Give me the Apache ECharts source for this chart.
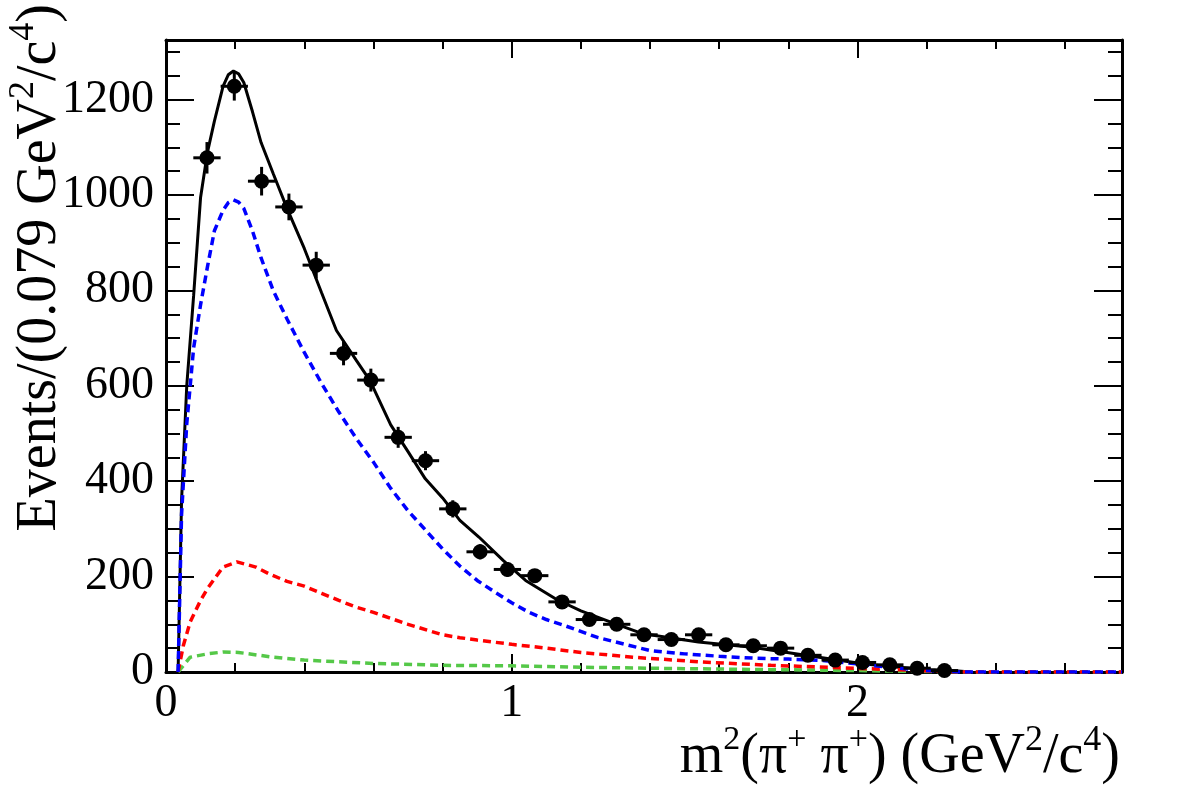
<!DOCTYPE html>
<html>
<head>
<meta charset="utf-8">
<script src="https://cdn.jsdelivr.net/npm/echarts@6/dist/echarts.min.js"></script>
<style>
  html, body { margin: 0; padding: 0; background: #fff; }
  #main { width: 1182px; height: 800px; }
</style>
</head>
<body>
<div id="main"></div>
<script>
// bin centres (width 0.079) and measured counts
var binX = [0.1185, 0.1975, 0.2765, 0.3555, 0.4345, 0.5135, 0.5925, 0.6715, 0.7505, 0.8295,
  0.9085, 0.9875, 1.0665, 1.1455, 1.2245, 1.3035, 1.3825, 1.4615, 1.5405, 1.6195,
  1.6985, 1.7775, 1.8565, 1.9355, 2.0145, 2.0935, 2.1725, 2.2515];
var counts = [1078, 1228, 1029, 975, 853, 668, 612, 492, 443, 342,
  252, 215, 202, 147, 110, 100, 78, 68, 78, 57,
  55, 50, 35, 25, 20, 15, 8, 3];
var errs = [33, 30, 30, 28, 28, 25, 24, 22, 20, 18,
  16, 15, 14, 12, 11, 10, 9, 8, 9, 8,
  7, 7, 6, 5, 4, 4, 3, 2];
var binHalf = 0.0395;

// total fit (black)
var totalX = [0.035, 0.045, 0.06, 0.08, 0.10, 0.12, 0.14, 0.165, 0.18, 0.195, 0.21, 0.225, 0.25, 0.275,
  0.31, 0.35, 0.40, 0.45, 0.493, 0.55, 0.59, 0.65, 0.70, 0.75, 0.80, 0.85, 0.905, 0.975, 1.04,
  1.13, 1.20, 1.30, 1.38, 1.54, 1.695, 1.85, 2.00, 2.08, 2.21, 2.29, 2.33];
var totalY = [0, 360, 600, 790, 995, 1090, 1155, 1228, 1252, 1260, 1254, 1236, 1175, 1110,
  1045, 972, 888, 795, 716, 654, 611, 518, 462, 405, 365, 318, 283, 234, 192,
  152, 128, 101, 80, 63, 52, 35, 19, 12, 5, 2, 0];

// blue component
var blueX = [0.035, 0.045, 0.06, 0.08, 0.10, 0.12, 0.14, 0.165, 0.18, 0.195, 0.21, 0.225, 0.25, 0.275,
  0.31, 0.35, 0.40, 0.45, 0.50, 0.55, 0.60, 0.65, 0.70, 0.75, 0.80, 0.85, 0.90, 0.95, 1.00,
  1.05, 1.10, 1.15, 1.25, 1.40, 1.50, 1.60, 1.70, 1.80, 1.90, 2.00, 2.10, 2.20, 2.30, 2.765];
var blueY = [0, 330, 520, 680, 770, 850, 925, 968, 984, 990, 985, 972, 925, 868,
  800, 740, 670, 605, 545, 490, 440, 385, 338, 298, 258, 222, 192, 168, 145,
  125, 110, 98, 72, 45, 38, 33, 29, 27, 24, 17, 9, 3, 0, 0];

// red component
var redX = [0.035, 0.05, 0.07, 0.10, 0.12, 0.165, 0.205, 0.26, 0.30, 0.35, 0.40, 0.45, 0.50, 0.55,
  0.60, 0.70, 0.80, 0.85, 0.90, 1.00, 1.10, 1.20, 1.35, 1.55, 1.75, 1.95, 2.10, 2.25, 2.30, 2.765];
var redY = [0, 55, 105, 150, 175, 220, 231, 220, 205, 190, 180, 165, 150, 136,
  125, 100, 78, 72, 67, 58, 50, 41, 31, 21, 14, 9, 5, 1, 0, 0];

// green component
var greenX = [0.035, 0.07, 0.12, 0.165, 0.21, 0.30, 0.40, 0.60, 0.80, 1.00, 1.20, 1.50, 2.00, 2.30, 2.765];
var greenY = [0, 31, 38, 42, 41, 32, 25, 18, 14, 13, 10, 7, 3, 0, 0];

function zip(xs, ys) {
  return xs.map(function (x, i) { return [x, ys[i]]; });
}

var FONT = "'Liberation Serif', 'DejaVu Serif', serif";
var myChart = echarts.init(document.getElementById("main"));

function xAx(pos, interval, tickLen, labels, line) {
  return {
    type: "value", position: pos, min: 0, max: 2.765, interval: interval,
    axisLine: { show: line, onZero: false, lineStyle: { color: "#000", width: 3 } },
    axisTick: { show: true, inside: true, length: tickLen, lineStyle: { color: "#000", width: 2 } },
    axisLabel: labels ? {
      show: true, color: "#000", fontFamily: FONT, fontSize: 46, margin: 9,
      showMaxLabel: false,
      formatter: function (v) {
        return Math.abs(v - Math.round(v)) < 1e-6 ? String(Math.round(v)) : "";
      }
    } : { show: false },
    splitLine: { show: false }
  };
}

function yAx(pos, interval, tickLen, labels, line) {
  return {
    type: "value", position: pos, min: 0, max: 1325, interval: interval,
    axisLine: { show: line, onZero: false, lineStyle: { color: "#000", width: 3 } },
    axisTick: { show: true, inside: true, length: tickLen, lineStyle: { color: "#000", width: 2 } },
    axisLabel: labels ? {
      show: true, color: "#000", fontFamily: FONT, fontSize: 46, margin: 12,
      showMaxLabel: false,
      formatter: function (v) { return v % 200 === 0 ? String(v) : ""; }
    } : { show: false },
    splitLine: { show: false }
  };
}

var titleRich = {
  n: { fontFamily: FONT, fontSize: 56, color: "#000", lineHeight: 68 },
  s: { fontFamily: FONT, fontSize: 36, color: "#000", verticalAlign: "top", lineHeight: 68 },
  t: { fontFamily: FONT, fontSize: 34, color: "#000", verticalAlign: "top", lineHeight: 62 }
};

function dashed(name, color, xs, ys) {
  return {
    name: name, type: "line", data: zip(xs, ys), showSymbol: false, silent: true,
    xAxisIndex: 0, yAxisIndex: 0,
    lineStyle: { color: color, width: 3.5, type: [8, 5] }, z: 3
  };
}

myChart.setOption({
  animation: false,
  backgroundColor: "#fff",
  grid: { left: 166, right: 60, top: 40, bottom: 128, containLabel: false },
  xAxis: [
    xAx("bottom", 0.2, 9, true, true),
    xAx("bottom", 1, 18, false, false),
    xAx("top", 0.2, 9, false, true),
    xAx("top", 1, 18, false, false)
  ],
  yAxis: [
    yAx("left", 50, 14, true, true),
    yAx("left", 200, 28, false, false),
    yAx("right", 50, 14, false, true),
    yAx("right", 200, 28, false, false)
  ],
  graphic: [
    {
      type: "text", x: 1120, y: 757,
      style: {
        text: "{n|m}{t|2}{n|(π}{t|+}{n| π}{t|+}{n|) (GeV}{s|2}{n|/c}{s|4}{n|)}",
        rich: titleRich, align: "right", verticalAlign: "middle"
      }
    },
    {
      type: "text", x: 40, y: 4, rotation: Math.PI / 2,
      style: {
        text: "{n|Events/(0.079 GeV}{s|2}{n|/c}{s|4}{n|)}",
        rich: titleRich, align: "right", verticalAlign: "middle"
      }
    }
  ],
  series: [
    {
      name: "fit", type: "line", data: zip(totalX, totalY), showSymbol: false, silent: true,
      xAxisIndex: 0, yAxisIndex: 0,
      lineStyle: { color: "#000", width: 3 }, z: 2
    },
    dashed("green", "#55c848", greenX, greenY),
    dashed("red", "#ff0000", redX, redY),
    dashed("blue", "#0000ff", blueX, blueY),
    {
      name: "errors", type: "custom", xAxisIndex: 0, yAxisIndex: 0, z: 4, silent: true,
      data: binX.map(function (x, i) { return [x, counts[i], errs[i]]; }),
      renderItem: function (params, api) {
        var x = api.value(0), y = api.value(1), e = api.value(2);
        var lo = api.coord([x, Math.max(0, y - e)]);
        var hi = api.coord([x, y + e]);
        var l = api.coord([x - binHalf, y]);
        var r = api.coord([x + binHalf, y]);
        var st = { stroke: "#000", lineWidth: 3 };
        return {
          type: "group",
          children: [
            { type: "line", shape: { x1: lo[0], y1: lo[1], x2: hi[0], y2: hi[1] }, style: st },
            { type: "line", shape: { x1: l[0], y1: l[1], x2: r[0], y2: r[1] }, style: st }
          ]
        };
      }
    },
    {
      name: "data", type: "scatter", xAxisIndex: 0, yAxisIndex: 0, z: 5, silent: true,
      data: zip(binX, counts), symbol: "circle", symbolSize: 15,
      itemStyle: { color: "#000", opacity: 1 }
    }
  ]
});
</script>
</body>
</html>
